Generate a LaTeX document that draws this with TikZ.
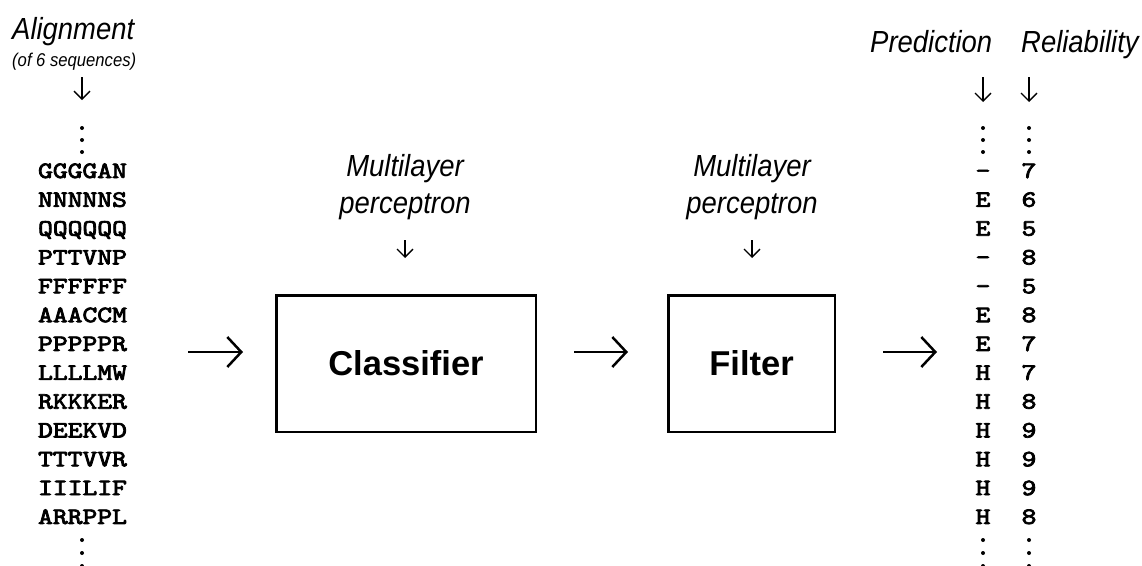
\documentclass[tikz,border=0pt]{standalone}
\usepackage{fontspec}
\usepackage{graphicx}
\setmainfont{Liberation Sans}
\newfontfamily\narrowsans[FakeStretch=0.9]{Liberation Sans}
\newfontfamily\seqfont[FakeBold=3]{lmmono10-regular.otf}
\usetikzlibrary{arrows.meta}
\newcommand{\seqtext}[1]{\scalebox{1.2}[1]{#1}}
\tikzset{
  lbl/.style={inner sep=0pt, font=\fontsize{30.5}{34}\selectfont\narrowsans\itshape},
  sublbl/.style={inner sep=0pt, font=\fontsize{18.5}{20}\selectfont\narrowsans\itshape},
  seq/.style={inner sep=0pt, anchor=base, font=\fontsize{23.5}{28}\selectfont\seqfont},
  procbox/.style={draw, line width=2.5pt, inner sep=0pt, font=\fontsize{34.5}{40}\selectfont\bfseries},
  darr/.style={line width=1.3pt, -{Straight Barb[length=8pt,width=16pt,line width=1.3pt]}},
  harr/.style={line width=2.5pt, -{Straight Barb[length=14pt,width=30pt,line width=2.5pt]}},
  vdot/.style={fill=black}
}
\begin{document}
\begin{tikzpicture}[x=1pt,y=-1pt]
\useasboundingbox (0,0) rectangle (1142,565);
% left header
\node[lbl, anchor=base west] (align) at (12,39) {Alignment};
\node[sublbl, anchor=base west] (alsub) at (12,66) {(of 6 sequences)};
\coordinate (aa1) at (82,77); \coordinate (aa2) at (82,100);
\draw[darr] (aa1) -- (aa2);
% right headers
\node[lbl, anchor=base west] (pred) at (870,52) {Prediction};
\node[lbl, anchor=base west] (reli) at (1021,52) {Reliability};
\coordinate (pa1) at (983,77); \coordinate (pa2) at (983,102);
\draw[darr] (pa1) -- (pa2);
\coordinate (ra1) at (1029,77); \coordinate (ra2) at (1029,102);
\draw[darr] (ra1) -- (ra2);
% dots
\foreach \xx in {82,983,1029}{
  \foreach \yy in {128,140,152,540,553,566}{
    \fill[vdot] (\xx,\yy) circle (2);
  }
}
% sequences
\foreach \s [count=\i from 0] in {GGGGAN,NNNNNS,QQQQQQ,PTTVNP,FFFFFF,AAACCM,PPPPPR,LLLLMW,RKKKER,DEEKVD,TTTVVR,IIILIF,ARRPPL}{
  \node[seq] (s\i) at (82.5,178+28.83*\i) {\seqtext{\s}};
}
\foreach \p/\r [count=\i from 0] in {-/7,E/6,E/5,-/8,-/5,E/8,E/7,H/7,H/8,H/9,H/9,H/9,H/8}{
  \node[seq] (p\i) at (983,178+28.83*\i) {\seqtext{\p}};
  \node[seq] (r\i) at (1029,178+28.83*\i) {\seqtext{\r}};
}
% perceptron labels
\node[lbl, anchor=base] (m1a) at (405,176) {Multilayer};
\node[lbl, anchor=base] (m1b) at (405,213) {perceptron};
\node[lbl, anchor=base] (m2a) at (752,176) {Multilayer};
\node[lbl, anchor=base] (m2b) at (752,213) {perceptron};
\coordinate (ma1) at (405,240); \coordinate (ma2) at (405,258);
\draw[darr] (ma1) -- (ma2);
\coordinate (mb1) at (752,240); \coordinate (mb2) at (752,258);
\draw[darr] (mb1) -- (mb2);
% boxes
\node[procbox, minimum width=259.5pt, minimum height=136.5pt] (cls) at (406,363.5) {Classifier};
\node[procbox, minimum width=166.5pt, minimum height=136.5pt] (flt) at (751.5,363.5) {Filter};
% horizontal arrows
\coordinate (h1a) at (188,352); \coordinate (h1b) at (243,352);
\draw[harr] (h1a) -- (h1b);
\coordinate (h2a) at (574,352); \coordinate (h2b) at (628,352);
\draw[harr] (h2a) -- (h2b);
\coordinate (h3a) at (883,352); \coordinate (h3b) at (937,352);
\draw[harr] (h3a) -- (h3b);
\end{tikzpicture}
\end{document}
